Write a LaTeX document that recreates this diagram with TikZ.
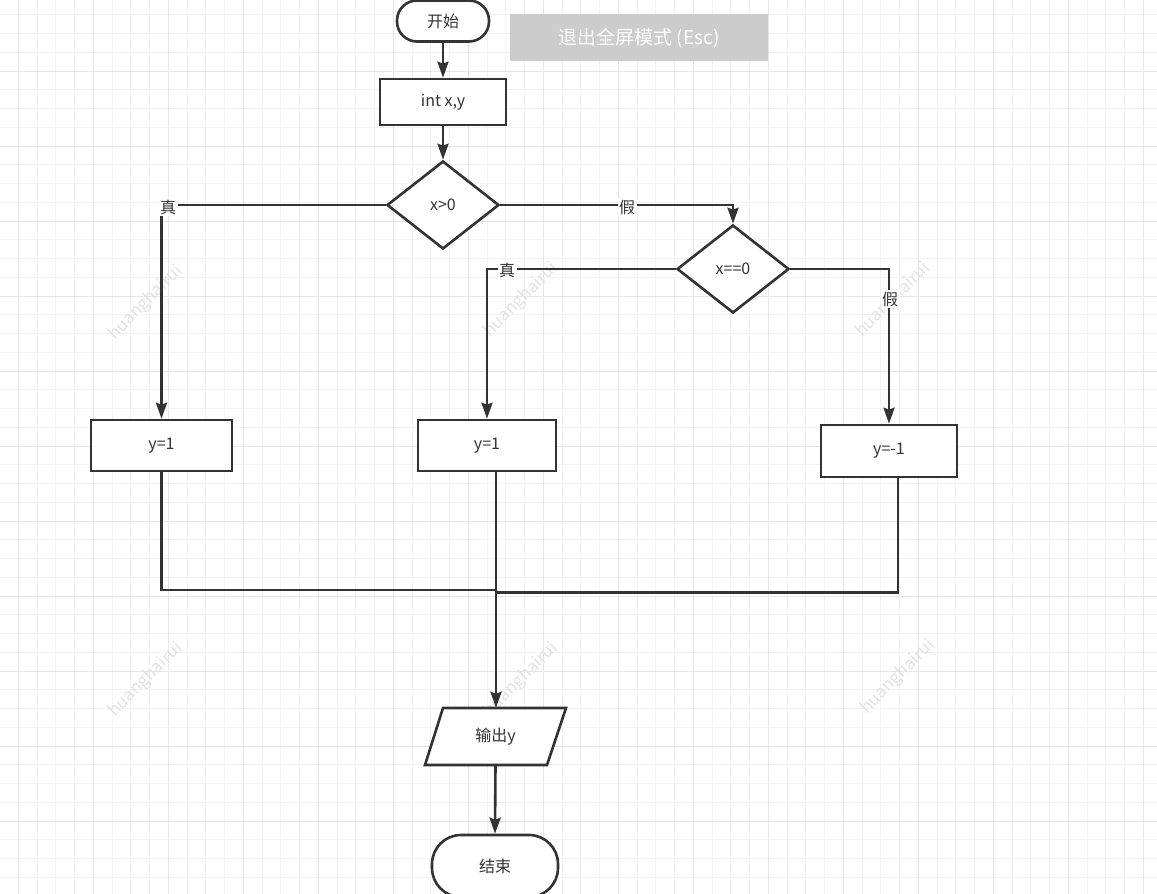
\documentclass[tikz,border=0pt]{standalone}
\usepackage{fontspec}
\setmainfont{Noto Sans CJK SC}
\usetikzlibrary{shapes.geometric,arrows.meta,calc}
\definecolor{ink}{HTML}{333333}
\definecolor{gminor}{HTML}{F3F3F3}
\definecolor{gmajor}{HTML}{E6E6E6}
\definecolor{wmc}{HTML}{E2E2E2}
\definecolor{escgray}{HTML}{CCCCCC}
\tikzset{
  line/.style={draw=ink,line width=2.6pt},
  arr/.style={line,-{Stealth[length=16pt,width=11pt,inset=2pt]}},
  term/.style={line,fill=white,rectangle,inner sep=0pt,text=ink,font=\fontsize{16}{19}\selectfont},
  procbox/.style={line,fill=white,rectangle,inner sep=0pt,text=ink,font=\fontsize{16}{19}\selectfont},
  dec/.style={line,fill=white,diamond,inner sep=0pt,text=ink,font=\fontsize{16}{19}\selectfont},
  lbl/.style={fill=white,inner sep=1.5pt,text=ink,font=\fontsize{16}{19}\selectfont},
  wm/.style={text=wmc,font=\fontsize{17}{20}\selectfont,rotate=45},
}
\begin{document}
\begin{tikzpicture}[x=1pt,y=-1pt]
\clip (0,0) rectangle (1157,894);
\fill[white] (0,0) rectangle (1157,894);
% grid
\foreach \k in {-1,...,61} {
  \pgfmathsetmacro\xx{18.3+18.75*\k}
  \draw[gminor,line width=1pt] (\xx,0) -- (\xx,894);
}
\foreach \k in {-4,...,44} {
  \pgfmathsetmacro\yy{71+18.75*\k}
  \draw[gminor,line width=1pt] (0,\yy) -- (1157,\yy);
}
\foreach \k in {0,...,15} {
  \pgfmathsetmacro\xx{18.3+75*\k}
  \draw[gmajor,line width=1pt] (\xx,0) -- (\xx,894);
}
\foreach \k in {-1,...,11} {
  \pgfmathsetmacro\yy{71+75*\k}
  \draw[gmajor,line width=1pt] (0,\yy) -- (1157,\yy);
}
% watermarks
\node[wm] (w1) at (146,303) {huanghairui};
\node[wm] (w2) at (521,300) {huanghairui};
\node[wm] (w3) at (893,300) {huanghairui};
\node[wm] (w4) at (146,680) {huanghairui};
\node[wm] (w5) at (521,680) {huanghairui};
\node[wm] (w6) at (898,677) {huanghairui};
% fullscreen hint
\fill[escgray] (510,14) rectangle (768,61);
\node[text=white,font=\fontsize{19}{22}\selectfont] (esc) at (639,38) {退出全屏模式 (Esc)};
% nodes
\node[term,minimum width=92pt,minimum height=41pt,rounded corners=20pt] (start) at (443,21) {开始};
\node[procbox,minimum width=126pt,minimum height=46pt] (init) at (443,102) {int x,y};
\node[dec,minimum width=112pt,minimum height=88pt] (d1) at (443,205) {x>0};
\node[dec,minimum width=112pt,minimum height=88pt] (d2) at (733,269) {x==0};
\node[procbox,minimum width=141pt,minimum height=51pt] (b1) at (161.5,445.5) {y=1};
\node[procbox,minimum width=138pt,minimum height=51pt] (b2) at (487,445.5) {y=1};
\node[procbox,minimum width=136pt,minimum height=52pt] (b3) at (889,451) {y=-1};
\node[minimum width=141pt,minimum height=57pt,inner sep=0pt] (out) at (495.5,736.5) {};
\draw[line,fill=white] (443,708) -- (566,708) -- (547,765) -- (425,765) -- cycle;
\node[text=ink,font=\fontsize{16}{19}\selectfont] (outtxt) at (495.5,737) {输出y};
\node[term,minimum width=126pt,minimum height=62pt,rounded corners=29pt] (stop) at (495,866) {结束};
% connectors
\draw[arr] (start) -- (init);
\draw[arr] (init) -- (d1);
\draw[arr] (d1.west) -| (b1.north);
\draw[arr] (d1.east) -| (d2.north);
\draw[arr] (d2.west) -| (b2.north);
\draw[arr] (d2.east) -| (b3.north);
\coordinate (j1) at (496,590);
\coordinate (j2) at (496,592.5);
\draw[line] (b1.south) |- (j1);
\draw[line] ($(b3.south)+(9,0)$) |- (j2);
\draw[arr] ($(b2.south)+(9,0)$) -- (out.north -| j1);
\draw[arr] (out.south) -- (stop.north);
% labels
\node[lbl] (t1) at (168,207) {真};
\node[lbl] (f1) at (627,207) {假};
\node[lbl] (t2) at (507,270) {真};
\node[lbl] (f2) at (890,299) {假};
\end{tikzpicture}
\end{document}
